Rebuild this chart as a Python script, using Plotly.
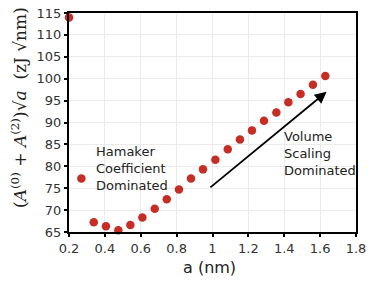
import plotly.graph_objects as go

a_nm = [0.200, 0.269, 0.338, 0.406, 0.475, 0.542, 0.609, 0.678, 0.745, 0.813, 0.880,
        0.947, 1.016, 1.085, 1.153, 1.220, 1.287, 1.356, 1.423, 1.491, 1.560, 1.629]
value = [114.0, 77.2, 67.2, 66.3, 65.4, 66.6, 68.3, 70.3, 72.5, 74.7, 77.2,
         79.3, 81.5, 83.9, 86.1, 88.2, 90.4, 92.3, 94.6, 96.5, 98.6, 100.6]

x_ticks = [0.2, 0.4, 0.6, 0.8, 1.0, 1.2, 1.4, 1.6, 1.8]
y_ticks = [65, 70, 75, 80, 85, 90, 95, 100, 105, 110, 115]

arrow_start = (0.98, 74.9)
arrow_end = (1.636, 97.0)

font = "'DejaVu Sans', sans-serif"

fig = go.Figure()
fig.add_trace(go.Scatter(
    x=a_nm, y=value, mode="markers",
    marker=dict(color="#c62d25", size=8.5),
    cliponaxis=False, showlegend=False, hoverinfo="skip",
))

fig.add_annotation(
    x=arrow_end[0], y=arrow_end[1], ax=arrow_start[0], ay=arrow_start[1],
    xref="x", yref="y", axref="x", ayref="y",
    showarrow=True, arrowhead=2, arrowsize=1.3, arrowwidth=1.8, arrowcolor="black",
    text="",
)
fig.add_annotation(
    x=0.345, y=79.4, xref="x", yref="y", xanchor="left", yanchor="middle",
    text="Hamaker<br>Coefficient<br>Dominated", showarrow=False, align="left",
    font=dict(size=13, color="#222", family=font), borderpad=0,
)
fig.add_annotation(
    x=1.395, y=82.9, xref="x", yref="y", xanchor="left", yanchor="middle",
    text="Volume<br>Scaling<br>Dominated", showarrow=False, align="left",
    font=dict(size=13, color="#222", family=font), borderpad=0,
)
# axis titles
fig.add_annotation(
    x=0.491, y=-0.16, xref="paper", yref="paper", xanchor="center", yanchor="middle",
    text="a (nm)", showarrow=False, font=dict(size=16, color="#222", family=font),
)
fig.add_annotation(
    x=-0.175, y=0.57, xref="paper", yref="paper", xanchor="center", yanchor="middle",
    text="(<i>A</i><sup>(0)</sup> + <i>A</i><sup>(2)</sup>)√<i>a</i>  (zJ √nm)",
    textangle=-90, showarrow=False,
    font=dict(size=17, color="#222", family="'DejaVu Serif', serif"),
)

axis_common = dict(
    showline=True, linecolor="black", linewidth=2, mirror=True,
    ticks="outside", ticklen=3, tickwidth=2, tickcolor="black",
    showgrid=True, gridcolor="#ebebeb", gridwidth=1, zeroline=False,
    tickfont=dict(size=13, color="#333", family=font), automargin=False,
)

fig.update_layout(
    width=382, height=285,
    margin=dict(l=69, r=26, t=13, b=53),
    paper_bgcolor="white", plot_bgcolor="white",
    xaxis=dict(range=[0.2, 1.8], tickvals=x_ticks,
               ticktext=[("%g" % v) for v in x_ticks], **axis_common),
    yaxis=dict(range=[65, 115], tickvals=y_ticks, **axis_common),
)

fig.write_html("out.html", config={"displayModeBar": False},
               post_script="document.body.style.margin='0';")
